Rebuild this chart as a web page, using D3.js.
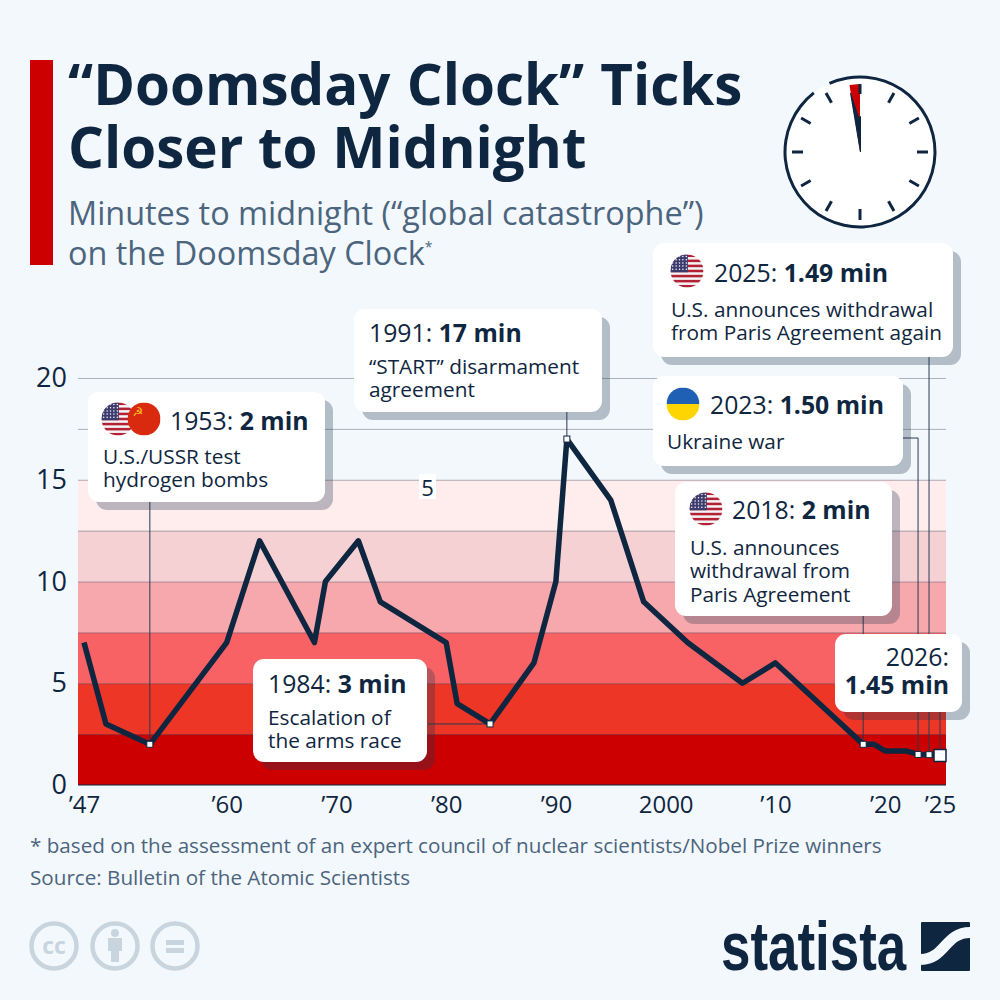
<!DOCTYPE html>
<html>
<head>
<meta charset="utf-8">
<script src="https://cdn.jsdelivr.net/npm/d3@7"></script>
<style>
html, body { margin: 0; padding: 0; background: #f3f8fc; }
svg { display: block; }
text { font-family: "Open Sans", sans-serif; }
</style>
</head>
<body>
<div id="chart"></div>
<script>
// minutes to midnight
var years = [1947, 1949, 1953, 1960, 1963, 1968, 1969, 1972, 1974, 1980, 1981, 1984, 1988, 1990, 1991, 1995, 1998, 2002, 2007, 2010, 2012, 2015, 2017, 2018, 2019, 2020, 2022, 2023, 2024, 2025];
var minutes = [7, 3, 2, 7, 12, 7, 10, 12, 9, 7, 4, 3, 6, 10, 17, 14, 9, 7, 5, 6, 5, 3.5, 2.5, 2, 2, 1.67, 1.67, 1.5, 1.49, 1.45];

var markerYears = [1953, 1984, 1991, 2018, 2023, 2024];
var lastYear = 2025;

var xTickYears = [1947, 1960, 1970, 1980, 1990, 2000, 2010, 2020, 2025];
var xTickLabels = ["’47", "’60", "’70", "’80", "’90", "2000", "’10", "’20", "’25"];
var yTickLabels = [0, 5, 10, 15, 20];
var gridValues = [2.5, 5, 7.5, 10, 12.5, 15, 17.5, 20];

var bandEdges = [0, 2.5, 5, 7.5, 10, 12.5, 15];
var bandColors = ["#cc0000", "#ee3626", "#f96265", "#f7a8ad", "#f5d1d4", "#ffecec"];

var navy = "#0f2640";
var slate = "#4c657e";

var width = 1000, height = 1000;
var margin = {left: 78, right: 946, top: 378, bottom: 785};

var svg = d3.select("#chart").append("svg")
    .attr("width", width)
    .attr("height", height);

svg.append("rect").attr("width", width).attr("height", height).attr("fill", "#f3f8fc");

var defs = svg.append("defs");

// set x and y scales
var x = d3.scaleLinear().domain([1947, 2025]).range([84, 940]);
var y = d3.scaleLinear().domain([0, 20]).range([margin.bottom, margin.top]);

var valueAt = function(yr) { return minutes[years.indexOf(yr)]; };

// header
svg.append("rect").attr("x", 30).attr("y", 60).attr("width", 23).attr("height", 205).attr("fill", "#cc0000");

svg.selectAll(".title")
    .data(["“Doomsday Clock” Ticks", "Closer to Midnight"])
    .enter().append("text")
    .attr("x", 68)
    .attr("y", function(d, i) { return 105 + i * 63; })
    .attr("font-size", 56.5)
    .attr("font-weight", 700)
    .attr("word-spacing", function(d, i) { return i === 0 ? 1.5 : 0; })
    .attr("fill", navy)
    .text(function(d) { return d; });

svg.append("text").attr("x", 68).attr("y", 225).attr("font-size", 32.4).attr("fill", slate)
    .text("Minutes to midnight (“global catastrophe”)");
var sub2 = svg.append("text").attr("x", 68).attr("y", 265).attr("font-size", 32.4).attr("fill", slate)
    .text("on the Doomsday Clock");
sub2.append("tspan").attr("font-size", 14).attr("dy", -13).text("*");

// clock
var clock = svg.append("g").attr("transform", "translate(860,152)");
clock.append("circle").attr("r", 75).attr("fill", "#ffffff");
clock.append("path")
    .attr("d", d3.arc().innerRadius(73.5).outerRadius(76.5)
      .startAngle(-24 * Math.PI / 180).endAngle(322 * Math.PI / 180)())
    .attr("fill", navy);
d3.range(12).forEach(function(i) {
  var a = i * Math.PI / 6;
  if (i === 0) return;
  clock.append("line")
      .attr("x1", Math.sin(a) * 57).attr("y1", -Math.cos(a) * 57)
      .attr("x2", Math.sin(a) * 68).attr("y2", -Math.cos(a) * 68)
      .attr("stroke", navy).attr("stroke-width", 3);
});
clock.append("path").attr("d", "M0,0L-10.5,-67L0,-68Z").attr("fill", "#cc0000");
clock.append("line").attr("x1", 0).attr("y1", -58).attr("x2", 0).attr("y2", -68).attr("stroke", navy).attr("stroke-width", 3);
clock.append("path").attr("d", "M0,0L-10,-59L-9,-59L-1,-35L1,-36L1,0Z").attr("fill", navy);

// background bands
svg.append("g").selectAll("rect")
    .data(bandColors)
    .enter().append("rect")
    .attr("x", margin.left)
    .attr("width", margin.right - margin.left)
    .attr("y", function(d, i) { return y(bandEdges[i + 1]); })
    .attr("height", function(d, i) { return y(bandEdges[i]) - y(bandEdges[i + 1]); })
    .attr("fill", function(d) { return d; });

// grid lines
var grid = svg.append("g")
    .attr("transform", "translate(" + margin.left + ",0)")
    .call(d3.axisLeft(y).tickValues(gridValues).tickSize(-(margin.right - margin.left)).tickFormat(""));
grid.select(".domain").remove();
grid.selectAll("line").attr("stroke", "#30435a").attr("stroke-opacity", 0.38).attr("stroke-width", 1);

// y axis
var yAxis = svg.append("g")
    .attr("transform", "translate(" + margin.left + ",0)")
    .call(d3.axisLeft(y).tickValues(yTickLabels).tickSize(0).tickPadding(11));
yAxis.select(".domain").remove();
yAxis.selectAll("text").attr("font-size", 27).attr("fill", navy).style("font-family", "'Open Sans', sans-serif");

// x axis
var xAxis = svg.append("g")
    .attr("transform", "translate(0," + margin.bottom + ")")
    .call(d3.axisBottom(x).tickValues(xTickYears).tickSize(0).tickPadding(11)
      .tickFormat(function(d, i) { return xTickLabels[i]; }));
xAxis.select(".domain").remove();
xAxis.selectAll("text").attr("font-size", 24).attr("fill", navy).style("font-family", "'Open Sans', sans-serif");

svg.append("line")
    .attr("x1", margin.left).attr("x2", margin.right)
    .attr("y1", margin.bottom).attr("y2", margin.bottom)
    .attr("stroke", navy).attr("stroke-width", 1);

// stray label in the picture
svg.append("rect").attr("x", 419).attr("y", 474).attr("width", 17).attr("height", 25).attr("fill", "#ffffff");
svg.append("text").attr("x", 427.5).attr("y", 496).attr("text-anchor", "middle").attr("font-size", 22).attr("fill", navy).text("5");

// leader lines, from callout to the marked point
var leaders = [
  [[x(1953), 500], [x(1953), y(2)]],
  [[428, y(3)], [x(1984), y(3)]],
  [[x(1991), 410], [x(1991), y(17)]],
  [[x(2018), 612], [x(2018), y(2)]],
  [[900, 438], [x(2023), 438], [x(2023), y(1.5)]],
  [[x(2024), 355], [x(2024), y(1.49)]],
  [[x(2025), 700], [x(2025), y(1.45)]]
];
svg.append("g").selectAll("path")
    .data(leaders)
    .enter().append("path")
    .attr("d", d3.line())
    .attr("fill", "none")
    .attr("stroke", "#263a52")
    .attr("stroke-width", 1);

// the line
var points = years.map(function(d, i) { return [d, minutes[i]]; });
var valueline = d3.line()
    .x(function(d) { return x(d[0]); })
    .y(function(d) { return y(d[1]); });
svg.append("path")
    .datum(points)
    .attr("d", valueline)
    .attr("fill", "none")
    .attr("stroke", navy)
    .attr("stroke-width", 5.5)
    .attr("stroke-linejoin", "round");

// markers
svg.append("g").selectAll("rect")
    .data(markerYears)
    .enter().append("rect")
    .attr("x", function(d) { return x(d) - 3; })
    .attr("y", function(d) { return y(valueAt(d)) - 3; })
    .attr("width", 6).attr("height", 6)
    .attr("fill", "#ffffff")
    .attr("stroke", navy).attr("stroke-width", 1);
svg.append("rect")
    .attr("x", x(lastYear) - 6).attr("y", y(valueAt(lastYear)) - 6)
    .attr("width", 12).attr("height", 12)
    .attr("fill", "#ffffff")
    .attr("stroke", navy).attr("stroke-width", 1.5);

// flags
var clipId = 0;
function flagGroup(cx, cy, r) {
  clipId++;
  defs.append("clipPath").attr("id", "flag" + clipId)
    .append("circle").attr("cx", cx).attr("cy", cy).attr("r", r);
  return svg.append("g").attr("clip-path", "url(#flag" + clipId + ")");
}
function usFlag(cx, cy) {
  var r = 16.5, g = flagGroup(cx, cy, r), h = 2 * r / 13;
  g.append("rect").attr("x", cx - r).attr("y", cy - r).attr("width", 2 * r).attr("height", 2 * r).attr("fill", "#f4f4f6");
  d3.range(0, 13, 2).forEach(function(i) {
    g.append("rect").attr("x", cx - r).attr("y", cy - r + i * h).attr("width", 2 * r).attr("height", h).attr("fill", "#b22234");
  });
  g.append("rect").attr("x", cx - r).attr("y", cy - r).attr("width", r * 1.05).attr("height", h * 7).attr("fill", "#3c3b6e");
  d3.range(0, 5).forEach(function(a) {
    d3.range(0, 5).forEach(function(b) {
      g.append("circle").attr("cx", cx - r + 2.2 + a * 3.4).attr("cy", cy - r + 2 + b * 3.2).attr("r", 0.75).attr("fill", "#ffffff");
    });
  });
}
function ussrFlag(cx, cy) {
  var r = 16.5, g = flagGroup(cx, cy, r);
  g.append("rect").attr("x", cx - r).attr("y", cy - r).attr("width", 2 * r).attr("height", 2 * r).attr("fill", "#d92a10");
  g.append("text").attr("x", cx - 6).attr("y", cy - 3).attr("text-anchor", "middle")
    .style("font-family", "'DejaVu Sans'").attr("font-size", 12).attr("fill", "#f5c518").text("☭");
}
function uaFlag(cx, cy) {
  var r = 16.5, g = flagGroup(cx, cy, r);
  g.append("rect").attr("x", cx - r).attr("y", cy - r).attr("width", 2 * r).attr("height", r).attr("fill", "#1f5fb4");
  g.append("rect").attr("x", cx - r).attr("y", cy).attr("width", 2 * r).attr("height", r).attr("fill", "#ffd500");
}

// callouts
function box(b) {
  svg.append("rect").attr("x", b[0] + 8).attr("y", b[1] + 8).attr("width", b[2] - b[0]).attr("height", b[3] - b[1])
      .attr("rx", 11).attr("fill", "#22344e").attr("fill-opacity", 0.3);
  svg.append("rect").attr("x", b[0]).attr("y", b[1]).attr("width", b[2] - b[0]).attr("height", b[3] - b[1])
      .attr("rx", 11).attr("fill", "#ffffff");
}
function callout(b, title, bold, body, tx, ty, bx, by) {
  box(b);
  var t = svg.append("text").attr("x", tx).attr("y", ty).attr("font-size", 24.8).attr("fill", navy).text(title);
  t.append("tspan").attr("font-weight", 700).text(bold);
  body.forEach(function(line, i) {
    svg.append("text").attr("x", bx).attr("y", by + i * 23.3).attr("font-size", 20.8).attr("fill", navy).text(line);
  });
}

callout([88, 392, 325, 502], "1953: ", "2 min", ["U.S./USSR test", "hydrogen bombs"], 170, 430, 103, 464);
usFlag(118, 419);
ussrFlag(144, 419);

callout([253, 659, 427, 762], "1984: ", "3 min", ["Escalation of", "the arms race"], 268, 693, 268, 725);

callout([354, 309, 602, 412], "1991: ", "17 min", ["“START” disarmament", "agreement"], 369, 342, 369, 374);

callout([653, 243, 953, 357], "2025: ", "1.49 min", ["U.S. announces withdrawal", "from Paris Agreement again"], 714, 282, 671, 317);
usFlag(687, 271);

callout([653, 376, 903, 466], "2023: ", "1.50 min", ["Ukraine war"], 710, 414, 667, 449);
uaFlag(683, 404);

callout([675, 482, 892, 616], "2018: ", "2 min", ["U.S. announces", "withdrawal from", "Paris Agreement"], 732, 519, 690, 555);
usFlag(706, 509);

// last callout is right aligned
box([835, 634, 962, 712]);
svg.append("text").attr("x", 949).attr("y", 666).attr("text-anchor", "end").attr("font-size", 24.8).attr("fill", navy).text("2026:");
svg.append("text").attr("x", 949).attr("y", 694).attr("text-anchor", "end").attr("font-size", 24.8).attr("font-weight", 700).attr("fill", navy).text("1.45 min");

// footer
svg.selectAll(".note")
    .data(["* based on the assessment of an expert council of nuclear scientists/Nobel Prize winners", "Source: Bulletin of the Atomic Scientists"])
    .enter().append("text")
    .attr("x", 30)
    .attr("y", function(d, i) { return 853 + i * 32; })
    .attr("font-size", 20.65)
    .attr("fill", slate)
    .text(function(d) { return d; });

// licence icons
var ccColor = "#c8d5de";
[54, 115, 175].forEach(function(cx) {
  svg.append("circle").attr("cx", cx).attr("cy", 946).attr("r", 22.5).attr("fill", "none").attr("stroke", ccColor).attr("stroke-width", 4.5);
});
svg.append("text").attr("x", 54).attr("y", 954).attr("text-anchor", "middle").attr("font-size", 23).attr("font-weight", 700).attr("fill", ccColor).text("cc");
svg.append("circle").attr("cx", 115).attr("cy", 933).attr("r", 4).attr("fill", ccColor);
svg.append("rect").attr("x", 108).attr("y", 938).attr("width", 14).attr("height", 13).attr("fill", ccColor);
svg.append("rect").attr("x", 111).attr("y", 950).attr("width", 8).attr("height", 12).attr("fill", ccColor);
svg.append("rect").attr("x", 166).attr("y", 940).attr("width", 18).attr("height", 5).attr("fill", ccColor);
svg.append("rect").attr("x", 166).attr("y", 948).attr("width", 18).attr("height", 5).attr("fill", ccColor);

// logo
svg.append("text")
    .attr("transform", "translate(721,970) scale(0.95,1.18)")
    .style("font-family", "'Liberation Sans Narrow', 'Liberation Sans', sans-serif")
    .attr("font-size", 58)
    .attr("font-weight", 700)
    .attr("fill", navy)
    .attr("textLength", 195)
    .attr("lengthAdjust", "spacingAndGlyphs")
    .text("statista");
svg.append("rect").attr("x", 921).attr("y", 922).attr("width", 49).attr("height", 49).attr("rx", 1).attr("fill", navy);
svg.append("path")
    .attr("d", "M921,959.5C945,959 945,932.5 970,932.5")
    .attr("fill", "none").attr("stroke", "#f3f8fc").attr("stroke-width", 11);
</script>
</body>
</html>
